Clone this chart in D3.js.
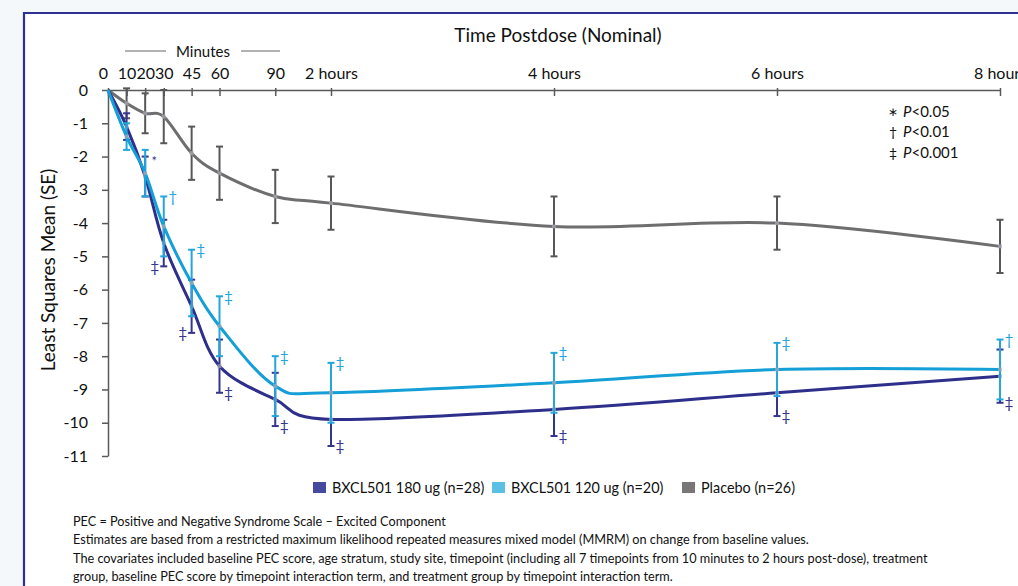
<!DOCTYPE html>
<html>
<head>
<meta charset="utf-8">
<script src="https://cdn.jsdelivr.net/npm/d3@7"></script>
<style>
  html, body { margin: 0; padding: 0; background: #f4f8fb; }
  svg { display: block; }
  text { font-family: Lato, "Open Sans", sans-serif; }
</style>
</head>
<body>
<svg id="chart" width="1018" height="586"></svg>
<script>
// ---- data ----
const times = [0, 10, 20, 30, 45, 60, 90, 120, 240, 360, 480];
const tickLabels = ["0", "10", "20", "30", "45", "60", "90", "2 hours", "4 hours", "6 hours", "8 hours"];
const yTicks = [0, -1, -2, -3, -4, -5, -6, -7, -8, -9, -10, -11];

const seriesNames = ["BXCL501 180 ug (n=28)", "BXCL501 120 ug (n=20)", "Placebo (n=26)"];

const placeboMean = [0, -0.4, -0.7, -0.8, -1.9, -2.5, -3.2, -3.4, -4.1, -4.0, -4.7];
const placeboSE   = [null, 0.45, 0.6, 0.8, 0.8, 0.8, 0.8, 0.8, 0.9, 0.8, 0.8];

const dose180Mean = [0, -1.1, -2.6, -4.6, -6.5, -8.3, -9.3, -9.9, -9.6, -9.1, -8.6];
const dose180SE   = [null, 0.4, 0.6, 0.7, 0.8, 0.8, 0.8, 0.8, 0.8, 0.7, 0.8];
const dose180Sig  = [null, null, "*", "‡", "‡", "‡", "‡", "‡", "‡", "‡", "‡"];

const dose120Mean = [0, -1.4, -2.5, -4.1, -5.8, -7.1, -8.9, -9.1, -8.8, -8.4, -8.4];
const dose120SE   = [null, 0.4, 0.7, 0.9, 1.0, 0.9, 0.9, 0.9, 0.9, 0.8, 0.9];
const dose120Sig  = [null, null, null, "†", "‡", "‡", "‡", "‡", "‡", "‡", "†"];

const pLegend = [["∗", "P", "<0.05"], ["†", "P", "<0.01"], ["‡", "P", "<0.001"]];

const footnotes = [
  "PEC = Positive and Negative Syndrome Scale – Excited Component",
  "Estimates are based from a restricted maximum likelihood repeated measures mixed model (MMRM) on change from baseline values.",
  "The covariates included baseline PEC score, age stratum, study site, timepoint (including all 7 timepoints from 10 minutes to 2 hours post-dose), treatment",
  "group, baseline PEC score by timepoint interaction term, and treatment group by timepoint interaction term."
];

// ---- styles ----
const C180 = "#2e2f8a", C120 = "#149fd6", CPBO = "#6e6e6e";
const L180 = "#464a9e", L120 = "#5bbfe6", LPBO = "#787676";
const E180 = "#34358f", E120 = "#22a6de", EPBO = "#575757";
const AXIS = "#5a5a5a";

const svg = d3.select("#chart");

// frame
svg.append("rect").attr("x", 24).attr("y", 13).attr("width", 1100).attr("height", 700).attr("fill", "#ffffff");
svg.append("path").attr("d", "M24,700 L24,13 L1100,13").attr("fill", "none").attr("stroke", "#2e3192").attr("stroke-width", 2.2);

const x = d3.scaleLinear().domain([0, 480]).range([108, 1000]);
const y = d3.scaleLinear().domain([0, -11]).range([90, 456]);

// X axis (top)
const xAxis = d3.axisTop(x)
  .tickValues(times)
  .tickFormat((d, i) => tickLabels[i])
  .tickSizeInner(-6)
  .tickSizeOuter(0)
  .tickPadding(11);
const gx = svg.append("g").attr("transform", `translate(0,${y(0)})`).call(xAxis);
gx.select(".domain").attr("stroke", AXIS).attr("stroke-width", 1.5);
gx.selectAll(".tick line").attr("stroke", AXIS).attr("stroke-width", 1.5).attr("y1", -2);
gx.selectAll(".tick text").attr("font-size", 16).attr("fill", "#111")
  .attr("font-family", "Lato, sans-serif")
  .attr("dx", (d) => d === 0 ? -5 : 0);

// Y axis
const yAxis = d3.axisLeft(y).tickValues(yTicks).tickFormat(d3.format("d")).tickSizeInner(6).tickSizeOuter(0).tickPadding(14);
const gy = svg.append("g").attr("transform", `translate(${x(0)},0)`).call(yAxis);
gy.select(".domain").attr("stroke", AXIS).attr("stroke-width", 1.5);
gy.selectAll(".tick line").attr("stroke", AXIS).attr("stroke-width", 1.5);
gy.selectAll(".tick text").attr("font-size", 16).attr("fill", "#111").attr("font-family", "Lato, sans-serif")
  .text(d => d === 0 ? "0" : "-" + Math.abs(d));

// Titles
svg.append("text").attr("x", 558).attr("y", 42).attr("text-anchor", "middle")
  .attr("font-size", 19).attr("fill", "#111").text("Time Postdose (Nominal)");
svg.append("text").attr("x", 203).attr("y", 57).attr("text-anchor", "middle")
  .attr("font-size", 15).attr("fill", "#111").text("Minutes");
svg.append("line").attr("x1", 125).attr("x2", 166).attr("y1", 51).attr("y2", 51).attr("stroke", "#666").attr("stroke-width", 1.2);
svg.append("line").attr("x1", 241).attr("x2", 280).attr("y1", 51).attr("y2", 51).attr("stroke", "#666").attr("stroke-width", 1.2);
svg.append("text").attr("transform", "translate(55,270) rotate(-90)").attr("text-anchor", "middle")
  .attr("font-size", 19).attr("fill", "#111").text("Least Squares Mean (SE)");

// series
const series = [
  { mean: placeboMean, se: placeboSE, sig: null, line: CPBO, err: EPBO },
  { mean: dose180Mean, se: dose180SE, sig: dose180Sig, line: C180, err: E180 },
  { mean: dose120Mean, se: dose120SE, sig: dose120Sig, line: C120, err: E120 }
];

const lineGen = d3.line().x(d => x(d.t)).y(d => y(d.v)).curve(d3.curveCardinal.tension(0));

series.forEach((s, si) => {
  const pts = times.map((t, i) => ({ t, v: s.mean[i], se: s.se[i], sig: s.sig ? s.sig[i] : null }));
  const g = svg.append("g");
  // error bars
  const eb = pts.filter(p => p.se != null);
  eb.forEach(p => {
    const x0 = x(p.t), yt = y(p.v + p.se), yb = y(p.v - p.se);
    g.append("line").attr("x1", x0).attr("x2", x0).attr("y1", yt).attr("y2", yb).attr("stroke", s.err).attr("stroke-width", 2);
    [yt, yb].forEach(yy => g.append("line").attr("x1", x0 - 3.5).attr("x2", x0 + 3.5).attr("y1", yy).attr("y2", yy).attr("stroke", s.err).attr("stroke-width", 2));
  });
  g.append("path").datum(pts).attr("d", lineGen).attr("fill", "none").attr("stroke", s.line).attr("stroke-width", 3);
  // markers
  pts.slice(1).forEach(p => {
    g.append("rect").attr("x", x(p.t) - 2).attr("y", y(p.v) - 2).attr("width", 4).attr("height", 4).attr("fill", "#a9a9b5").attr("opacity", 0.7);
  });
  // significance symbols
  if (s.sig) {
    pts.forEach(p => {
      if (!p.sig) return;
      let sx, sy;
      if (si === 1) {
        const left = (p.t === 30 || p.t === 45);
        const top = (p.t === 20);
        sx = x(p.t) + (left ? -9 : 9);
        sy = top ? y(p.v + p.se) : y(p.v - p.se);
      } else {
        sx = x(p.t) + 9;
        sy = y(p.v + p.se);
      }
      g.append("text").attr("x", sx).attr("y", sy).attr("dy", p.sig === "*" ? "0.7em" : "0.35em")
        .attr("text-anchor", "middle").attr("font-size", p.sig === "*" ? 13 : 15.5).attr("fill", s.err)
        .attr("font-family", "DejaVu Sans, sans-serif").text(p.sig);
    });
  }
});

// p legend
pLegend.forEach((r, i) => {
  const yy = [112, 132, 153][i];
  svg.append("text").attr("x", 893).attr("y", yy).attr("dy", "0.35em").attr("text-anchor", "middle")
    .attr("font-size", r[0] === "∗" ? 12 : 14).attr("fill", "#111").attr("font-family", "DejaVu Sans, sans-serif").text(r[0]);
  const t = svg.append("text").attr("x", 903).attr("y", yy).attr("dy", "0.35em").attr("font-size", 15).attr("fill", "#111");
  t.append("tspan").attr("font-style", "italic").text(r[1]);
  t.append("tspan").text(r[2]);
});

// bottom legend
const legX = [313, 492, 682];
const legCol = [L180, L120, LPBO];
seriesNames.forEach((n, i) => {
  svg.append("rect").attr("x", legX[i]).attr("y", 482).attr("width", 13).attr("height", 11).attr("fill", legCol[i]);
  svg.append("text").attr("x", legX[i] + 19).attr("y", 488).attr("dy", "0.35em").attr("font-size", 14.4).attr("fill", "#111").text(n);
});

// footnotes
footnotes.forEach((f, i) => {
  svg.append("text").attr("x", 73).attr("y", 521.5 + i * 18.4).attr("dy", "0.35em").attr("font-size", 12.7).attr("fill", "#111").text(f);
});
</script>
</body>
</html>
